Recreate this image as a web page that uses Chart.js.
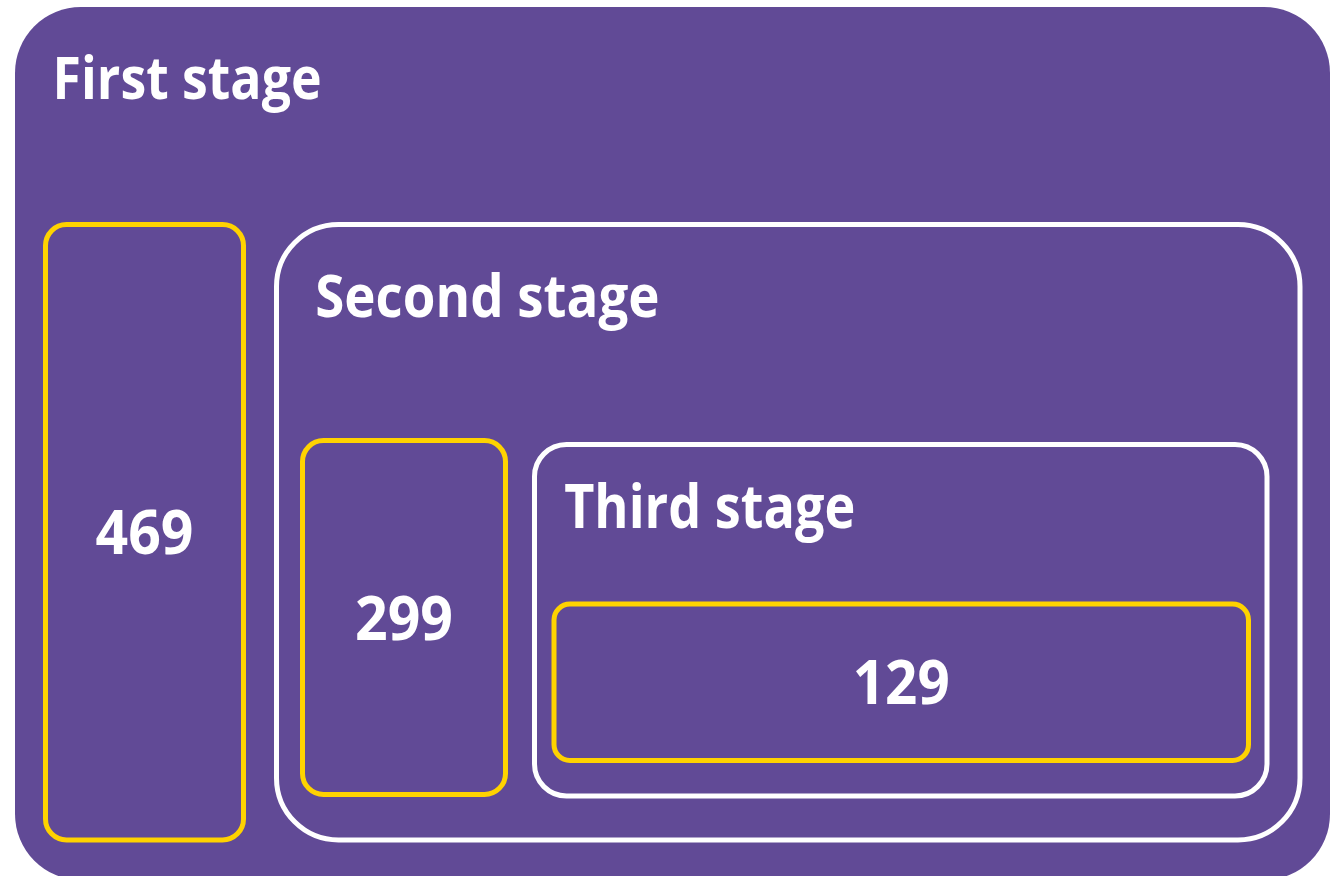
<!DOCTYPE html>
<html>
<head>
<meta charset="utf-8">
<script src="https://cdn.jsdelivr.net/npm/chart.js@4/dist/chart.umd.min.js"></script>
<style>
  html, body { margin: 0; padding: 0; background: #ffffff; }
  #wrap { width: 1338px; height: 876px; }
</style>
</head>
<body>
<div id="wrap"><canvas id="stages-chart" width="1338" height="876"></canvas></div>
<script>
// data
const stages = ["First stage", "Second stage", "Third stage"];
const counts = [469, 299, 129];

// layout (in scale units = page pixels)
const stageBoxes = [
  { x0: 15, y0: 7, x1: 1330, y1: 880, r: 66, fill: true },
  { x0: 276.5, y0: 224.5, x1: 1300, y1: 840, r: 62 },
  { x0: 534.5, y0: 444.5, x1: 1267, y1: 796, r: 32 }
];
const countBoxes = [
  { x0: 45.5, y0: 224.5, x1: 243.5, y1: 840, r: 21 },
  { x0: 302.5, y0: 440.5, x1: 505.5, y1: 794.5, r: 21 },
  { x0: 554, y0: 604, x1: 1248.5, y1: 760.5, r: 16 }
];
const stageTitles = [
  { x: 57, base: 99, cap: 42, w: 263 },
  { x: 317, base: 317, cap: 42, w: 341 },
  { x: 565, base: 528, cap: 43, w: 288 }
];
const countLabels = [
  { cap: 44, w: 96 },
  { cap: 44, w: 95 },
  { cap: 44, w: 93 }
];

const PURPLE = "#614a96";
const YELLOW = "#ffd200";
const FONT = "'Open Sans', 'Noto Sans', sans-serif";

function roundRect(ctx, x0, y0, x1, y1, r) {
  ctx.beginPath();
  ctx.moveTo(x0 + r, y0);
  ctx.lineTo(x1 - r, y0);
  ctx.arcTo(x1, y0, x1, y0 + r, r);
  ctx.lineTo(x1, y1 - r);
  ctx.arcTo(x1, y1, x1 - r, y1, r);
  ctx.lineTo(x0 + r, y1);
  ctx.arcTo(x0, y1, x0, y1 - r, r);
  ctx.lineTo(x0, y0 + r);
  ctx.arcTo(x0, y0, x0 + r, y0, r);
  ctx.closePath();
}

// text squeezed to the reference width (Calibri is narrower than the fonts we have)
function fitText(ctx, text, x, base, cap, w, align) {
  const size = cap / 0.714;
  ctx.font = "700 " + size + "px " + FONT;
  const m = ctx.measureText(text);
  const sx = w / (m.actualBoundingBoxRight + m.actualBoundingBoxLeft);
  ctx.save();
  ctx.translate(x, base);
  ctx.scale(sx, 1);
  ctx.textBaseline = "alphabetic";
  if (align === "center") {
    ctx.textAlign = "center";
    ctx.fillText(text, 0, 0);
  } else {
    ctx.textAlign = "left";
    ctx.fillText(text, m.actualBoundingBoxLeft, 0);
  }
  ctx.restore();
}

const nestedBoxes = {
  id: "nestedBoxes",
  afterDraw(chart) {
    const ctx = chart.ctx;
    const xs = chart.scales.x;
    const ys = chart.scales.y;
    const px = v => xs.getPixelForValue(v);
    const py = v => ys.getPixelForValue(v);

    ctx.save();
    stages.forEach((name, i) => {
      const b = stageBoxes[i];
      roundRect(ctx, px(b.x0), py(b.y0), px(b.x1), py(b.y1), b.r);
      if (b.fill) {
        ctx.fillStyle = PURPLE;
        ctx.fill();
      } else {
        ctx.strokeStyle = "#ffffff";
        ctx.lineWidth = 5;
        ctx.stroke();
      }
      const t = stageTitles[i];
      ctx.fillStyle = "#ffffff";
      fitText(ctx, name, px(t.x), py(t.base), t.cap, t.w, "left");
    });

    counts.forEach((v, i) => {
      const b = countBoxes[i];
      roundRect(ctx, px(b.x0), py(b.y0), px(b.x1), py(b.y1), b.r);
      ctx.strokeStyle = YELLOW;
      ctx.lineWidth = 5;
      ctx.stroke();
      const l = countLabels[i];
      const cx = (px(b.x0) + px(b.x1)) / 2;
      const cy = (py(b.y0) + py(b.y1)) / 2;
      ctx.fillStyle = "#ffffff";
      fitText(ctx, String(v), cx, cy + l.cap / 2, l.cap, l.w, "center");
    });
    ctx.restore();
  }
};

new Chart("stages-chart", {
  type: "scatter",
  data: { datasets: [{ label: "stages", data: [] }] },
  options: {
    responsive: false,
    animation: false,
    layout: { padding: 0 },
    scales: {
      x: { type: "linear", min: 0, max: 1338, display: false },
      y: { type: "linear", min: 0, max: 876, reverse: true, display: false }
    },
    plugins: {
      legend: { display: false },
      tooltip: { enabled: false }
    }
  },
  plugins: [nestedBoxes]
});
</script>
</body>
</html>
